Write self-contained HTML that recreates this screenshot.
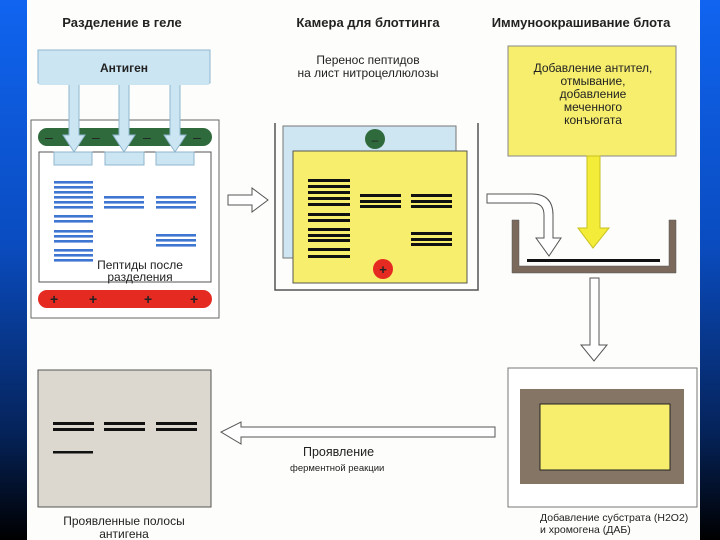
<!DOCTYPE html>
<html><head><meta charset="utf-8"><style>
html,body{margin:0;padding:0;width:720px;height:540px;overflow:hidden;background:#fff}
svg{display:block}
text{font-family:"Liberation Sans",sans-serif;fill:#222}
</style></head><body>
<svg width="720" height="540" viewBox="0 0 720 540" xmlns="http://www.w3.org/2000/svg">
<defs>
<linearGradient id="bg" x1="0" y1="0" x2="0" y2="1">
<stop offset="0" stop-color="#1064f0"/><stop offset="0.45" stop-color="#0a4cc0"/><stop offset="0.8" stop-color="#05235a"/><stop offset="1" stop-color="#000"/>
</linearGradient>
</defs>
<rect x="0" y="0" width="27" height="540" fill="url(#bg)"/>
<rect x="700" y="0" width="20" height="540" fill="url(#bg)"/>
<rect x="27" y="0" width="673" height="540" fill="#fdfdfb"/>

<text x="122" y="27" font-size="13" font-weight="bold" text-anchor="middle">Разделение в геле</text>
<text x="368" y="27" font-size="13" font-weight="bold" text-anchor="middle">Камера для блоттинга</text>
<text x="581" y="27" font-size="13" font-weight="bold" text-anchor="middle">Иммуноокрашивание  блота</text>

<rect x="31" y="120" width="188" height="198" fill="#fff" stroke="#666" stroke-width="1"/>
<rect x="38" y="128" width="174" height="18" rx="9" fill="#2f6a3c"/>
<g fill="#1c3f22" font-size="14"><text x="45" y="142">–</text><text x="92" y="142">–</text><text x="143" y="142">–</text><text x="193" y="142">–</text></g>
<rect x="39" y="152" width="172" height="130" fill="#fff" stroke="#555"/>
<g fill="#cbe5f3" stroke="#8fb6cc"><rect x="54" y="152" width="38" height="13"/><rect x="105" y="152" width="39" height="13"/><rect x="156" y="152" width="38" height="13"/></g>
<rect x="38" y="50" width="172" height="33" fill="#cbe5f3" stroke="#8fb6cc"/>
<g fill="#cbe5f3" stroke="#8fb6cc">
<path d="M69 83 V135 H63 L74 152 L85 135 H79 V83"/>
<path d="M119 83 V135 H113 L124 152 L135 135 H129 V83"/>
<path d="M170 83 V135 H164 L175 152 L186 135 H180 V83"/>
</g>
<rect x="39" y="82" width="170" height="3" fill="#cbe5f3"/>
<text x="124" y="72" font-size="12" font-weight="bold" text-anchor="middle" fill="#333">Антиген</text>
<g fill="#3f76d2">
<rect x="54" y="181" width="39" height="2.6"/><rect x="54" y="186" width="39" height="2.6"/><rect x="54" y="191" width="39" height="2.6"/><rect x="54" y="196" width="39" height="2.6"/><rect x="54" y="201" width="39" height="2.6"/><rect x="54" y="206" width="39" height="2.6"/>
<rect x="54" y="215" width="39" height="2.6"/><rect x="54" y="220" width="39" height="2.6"/>
<rect x="54" y="230" width="39" height="2.6"/><rect x="54" y="235" width="39" height="2.6"/><rect x="54" y="240" width="39" height="2.6"/>
<rect x="54" y="249" width="39" height="2.6"/><rect x="54" y="254" width="39" height="2.6"/><rect x="54" y="259" width="39" height="2.6"/>
<rect x="104" y="196" width="40" height="2.6"/><rect x="104" y="201" width="40" height="2.6"/><rect x="104" y="206" width="40" height="2.6"/>
<rect x="156" y="196" width="40" height="2.6"/><rect x="156" y="201" width="40" height="2.6"/><rect x="156" y="206" width="40" height="2.6"/>
<rect x="156" y="234" width="40" height="2.6"/><rect x="156" y="239" width="40" height="2.6"/><rect x="156" y="244" width="40" height="2.6"/>
</g>
<text x="140" y="269" font-size="12" text-anchor="middle">Пептиды после</text>
<text x="140" y="281" font-size="12" text-anchor="middle">разделения</text>
<rect x="38" y="290" width="174" height="18" rx="9" fill="#e52a22"/>
<g fill="#5a1010" font-size="14" font-weight="bold"><text x="50" y="304">+</text><text x="89" y="304">+</text><text x="144" y="304">+</text><text x="190" y="304">+</text></g>

<path d="M228 195 H252 V188 L268 200 L252 212 V205 H228 Z" fill="#fff" stroke="#555"/>

<text x="368" y="64" font-size="12" text-anchor="middle">Перенос пептидов</text>
<text x="368" y="77" font-size="12" text-anchor="middle">на лист нитроцеллюлозы</text>
<path d="M275 123 V290 H478 V123" fill="none" stroke="#555" stroke-width="1.5"/>
<rect x="283" y="126" width="173" height="132" fill="#cde6f2" stroke="#777"/>
<circle cx="375" cy="139" r="10" fill="#2f6a3c"/>
<text x="375" y="144" font-size="12" text-anchor="middle" fill="#1c3f22">–</text>
<rect x="293" y="151" width="174" height="132" fill="#f6ee6c" stroke="#555"/>
<g fill="#111">
<rect x="308" y="179" width="42" height="3"/><rect x="308" y="185" width="42" height="3"/><rect x="308" y="191" width="42" height="3"/><rect x="308" y="197" width="42" height="3"/><rect x="308" y="203" width="42" height="3"/>
<rect x="308" y="213" width="42" height="3"/><rect x="308" y="219" width="42" height="3"/>
<rect x="308" y="228" width="42" height="3"/><rect x="308" y="234" width="42" height="3"/><rect x="308" y="239" width="42" height="3"/>
<rect x="308" y="248" width="42" height="3"/><rect x="308" y="255" width="42" height="3"/>
<rect x="360" y="194" width="41" height="3"/><rect x="360" y="200" width="41" height="3"/><rect x="360" y="205" width="41" height="3"/>
<rect x="411" y="194" width="41" height="3"/><rect x="411" y="200" width="41" height="3"/><rect x="411" y="205" width="41" height="3"/>
<rect x="411" y="232" width="41" height="3"/><rect x="411" y="238" width="41" height="3"/><rect x="411" y="243" width="41" height="3"/>
</g>
<circle cx="383" cy="269" r="10" fill="#e52a22"/>
<text x="383" y="274" font-size="13" font-weight="bold" text-anchor="middle" fill="#4a0a0a">+</text>

<rect x="508" y="46" width="168" height="110" fill="#f6ee6c" stroke="#888"/>
<g font-size="12" text-anchor="middle" fill="#333">
<text x="593" y="72">Добавление антител,</text>
<text x="593" y="85">отмывание,</text>
<text x="593" y="98">добавление</text>
<text x="593" y="111">меченного</text>
<text x="593" y="124">конъюгата</text>
</g>
<path d="M587 156 V228 H578 L593 248 L609 228 H600 V156 Z" fill="#f3ec38" stroke="#c9c020"/>
<path d="M487 194 H532 Q553 194 553 215 V238 H561 L549 256 L536 238 H544 V215 Q544 203 532 203 H487 Z" fill="#fff" stroke="#555"/>
<path d="M512 220 H519 V266 H669 V220 H676 V273 H512 Z" fill="#7b6a5c" stroke="#555" stroke-width="0.5"/>
<rect x="527" y="259" width="133" height="3" fill="#111"/>
<path d="M590 278 H599 V345 H607 L594 361 L581 345 H590 Z" fill="#fff" stroke="#555"/>
<rect x="508" y="368" width="189" height="139" fill="#fff" stroke="#777"/>
<rect x="520" y="389" width="164" height="95" fill="#857565"/>
<rect x="540" y="404" width="130" height="66" fill="#f6ee6c" stroke="#222"/>
<text x="540" y="521" font-size="10.5" fill="#333">Добавление субстрата (H2O2)</text>
<text x="540" y="533" font-size="10.5" fill="#333">и хромогена (ДАБ)</text>

<path d="M495 427 H241 V422 L221 432 L241 444 V437 H495 Z" fill="#fff" stroke="#555"/>
<text x="303" y="456" font-size="12.5" fill="#333">Проявление</text>
<text x="290" y="471" font-size="9.5" fill="#333">ферментной реакции</text>

<rect x="38" y="370" width="173" height="137" fill="#dcd8d0" stroke="#555"/>
<g fill="#111">
<rect x="53" y="422" width="41" height="3"/><rect x="53" y="428" width="41" height="3"/>
<rect x="104" y="422" width="41" height="3"/><rect x="104" y="428" width="41" height="3"/>
<rect x="156" y="422" width="41" height="3"/><rect x="156" y="428" width="41" height="3"/>
<rect x="53" y="451" width="40" height="2.5"/>
</g>
<text x="124" y="525" font-size="12" text-anchor="middle" fill="#333">Проявленные полосы</text>
<text x="124" y="538" font-size="12" text-anchor="middle" fill="#333">антигена</text>
</svg>
</body></html>
